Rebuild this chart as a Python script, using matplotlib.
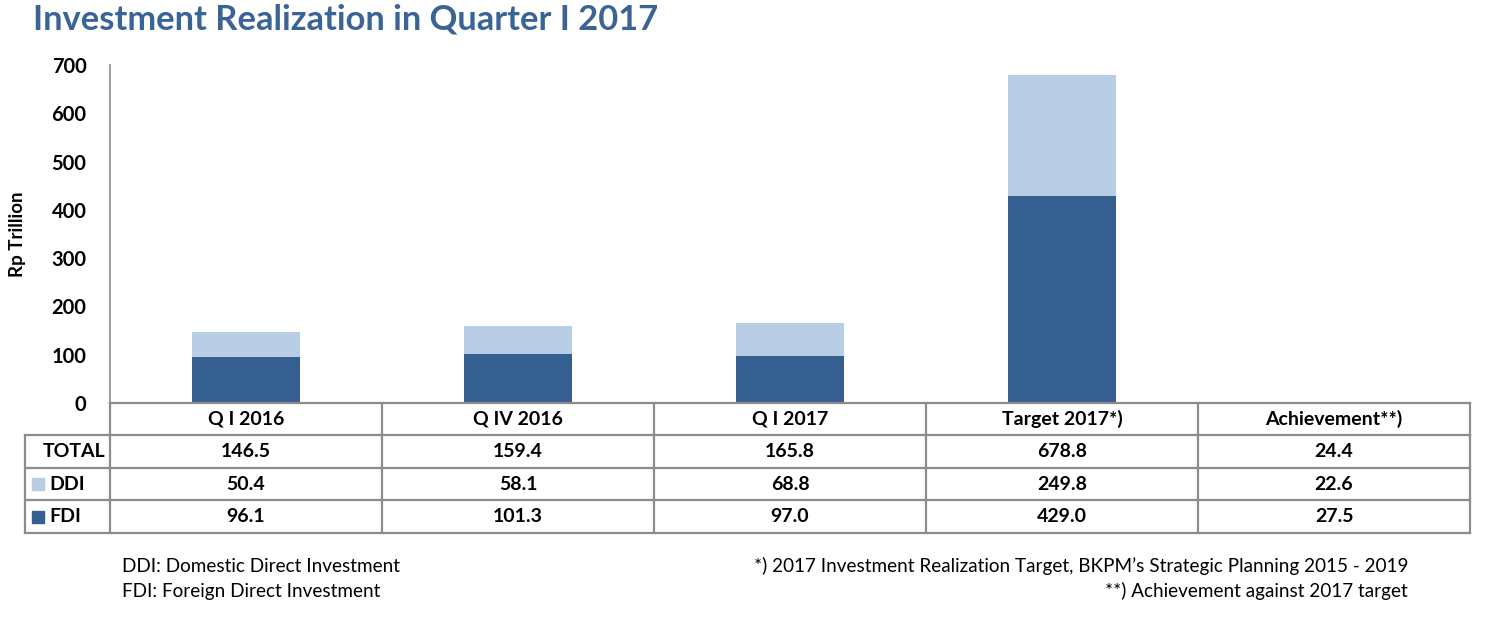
import matplotlib
matplotlib.use("Agg")
import matplotlib.pyplot as plt
from matplotlib.patches import Rectangle
from matplotlib.lines import Line2D

categories = ["Q I 2016", "Q IV 2016", "Q I 2017", "Target 2017*)", "Achievement**)"]
total = ["146.5", "159.4", "165.8", "678.8", "24.4"]
ddi_txt = ["50.4", "58.1", "68.8", "249.8", "22.6"]
fdi_txt = ["96.1", "101.3", "97.0", "429.0", "27.5"]
bar_categories = categories[:4]
fdi = [96.1, 101.3, 97.0, 429.0]
ddi = [50.4, 58.1, 68.8, 249.8]
yticks = [0, 100, 200, 300, 400, 500, 600, 700]

DARK = "#365F91"
LIGHT = "#B9CDE5"
GRID = "#8C8C8C"
TITLE = "#3A6495"
FONT = ["Lato", "DejaVu Sans"]

W, H = 1500, 621
fig = plt.figure(figsize=(15, 6.21), dpi=100)

def fx(px):
    return px / W
def fy(py):
    return 1 - py / H

x0, x1 = 110, 1470
y_top, y_base = 65, 403
ax = fig.add_axes([fx(x0), fy(y_base), fx(x1) - fx(x0), fy(y_top) - fy(y_base)])
n = len(categories)
xs = list(range(len(bar_categories)))
ax.bar(xs, fdi, width=0.4, color=DARK, zorder=2)
ax.bar(xs, ddi, width=0.4, bottom=fdi, color=LIGHT, zorder=2)
ax.set_xlim(-0.5, n - 0.5)
ax.set_ylim(0, 700)
ax.set_yticks(yticks)
ax.set_yticklabels([str(t) for t in yticks], fontweight="bold", fontsize=14.5, family=FONT)
ax.tick_params(axis="y", length=0, pad=17)
ax.set_xticks([])
for s in ["top", "right", "bottom"]:
    ax.spines[s].set_visible(False)
ax.spines["left"].set_color(GRID)
ax.spines["left"].set_linewidth(1.2)

fig.text(fx(17), fy(234), "Rp Trillion", rotation=90, ha="center", va="center",
         fontweight="bold", fontsize=13.5, family=FONT)

# table
tab = fig.add_axes([0, 0, 1, 1])
tab.set_xlim(0, W)
tab.set_ylim(H, 0)
tab.axis("off")
col_w = (x1 - x0) / n
row_edges = [403, 435, 468, 500, 533]
lx = 25
lw = 1.6
tab.add_line(Line2D([x0, x1], [row_edges[0]] * 2, color=GRID, lw=lw))
for r in row_edges[1:]:
    tab.add_line(Line2D([lx, x1], [r, r], color=GRID, lw=lw))
for i in range(n + 1):
    xv = x0 + i * col_w
    tab.add_line(Line2D([xv, xv], [row_edges[0], row_edges[-1]], color=GRID, lw=lw))
tab.add_line(Line2D([lx, lx], [row_edges[1], row_edges[-1]], color=GRID, lw=lw))

TS = 14
rows = [categories, total, ddi_txt, fdi_txt]
for ri, vals in enumerate(rows):
    yc = (row_edges[ri] + row_edges[ri + 1]) / 2
    for ci, v in enumerate(vals):
        xc = x0 + (ci + 0.5) * col_w
        tab.text(xc, yc, v, ha="center", va="center", fontsize=TS,
                 fontweight="bold", family=FONT)

yc = (row_edges[1] + row_edges[2]) / 2
tab.text(105, yc, "TOTAL", ha="right", va="center", fontsize=TS, fontweight="bold", family=FONT)
for ri, (lab, col) in enumerate([("DDI", LIGHT), ("FDI", DARK)]):
    yc = (row_edges[2 + ri] + row_edges[3 + ri]) / 2
    tab.add_patch(Rectangle((32, yc - 6), 12, 12, color=col))
    tab.text(49, yc, lab, ha="left", va="center", fontsize=TS, fontweight="bold", family=FONT)

# title & notes
fig.text(fx(33), fy(20), "Investment Realization in Quarter I 2017", ha="left", va="center",
         fontsize=24.8, fontweight="bold", color=TITLE, family=FONT)
NS = 13.6
fig.text(fx(122), fy(566), "DDI: Domestic Direct Investment", ha="left", va="center",
         fontsize=NS, family=FONT)
fig.text(fx(122), fy(591), "FDI: Foreign Direct Investment", ha="left", va="center",
         fontsize=NS, family=FONT)
fig.text(fx(1408), fy(566), "*) 2017 Investment Realization Target, BKPM\u2019s Strategic Planning 2015 - 2019",
         ha="right", va="center", fontsize=NS, family=FONT)
fig.text(fx(1408), fy(591), "**) Achievement against 2017 target", ha="right", va="center",
         fontsize=NS, family=FONT)

fig.savefig("out.png", dpi=100)
